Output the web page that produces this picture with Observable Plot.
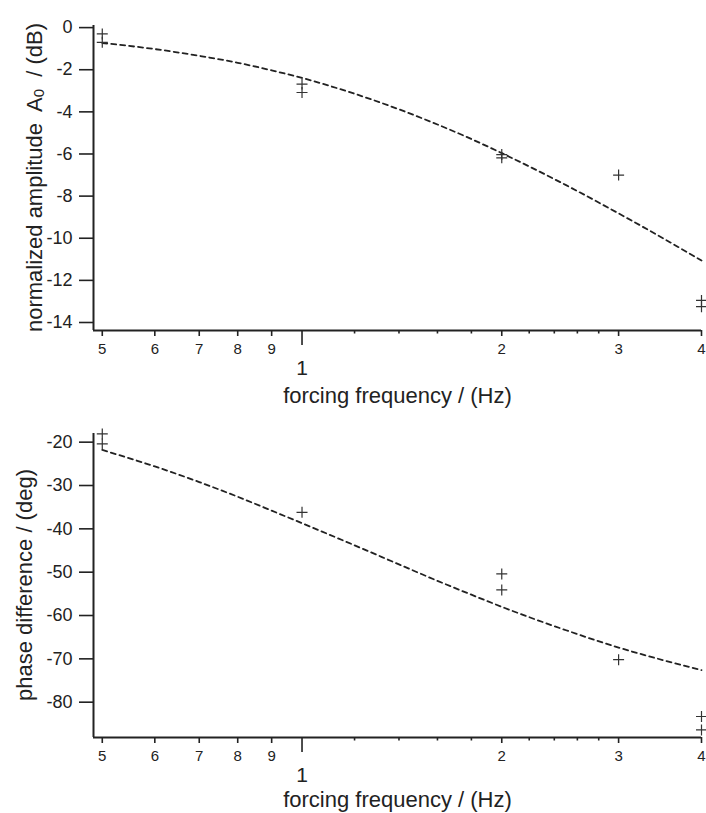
<!DOCTYPE html>
<html>
<head>
<meta charset="utf-8">
<script src="https://cdn.jsdelivr.net/npm/d3@7"></script>
<script src="https://cdn.jsdelivr.net/npm/@observablehq/plot@0.6"></script>
<style>
  html, body { margin: 0; padding: 0; background: #fff; }
  #chart svg { display: block; }
</style>
</head>
<body>
<div id="chart"></div>
<script>
// ---- data ----
// measured amplitude (dB)
const ampFreq = [0.5, 0.5, 1, 1, 2, 2, 3, 4, 4];
const ampVal  = [-0.3, -0.7, -2.68, -3.08, -6.03, -6.18, -7.0, -12.95, -13.25];
// measured phase difference (deg)
const phaseFreq = [0.5, 0.5, 1, 2, 2, 3, 4, 4];
const phaseVal  = [-18.1, -20.4, -36.2, -50.4, -54.1, -70.2, -83.3, -86.4];
// dashed model curves, read at sample frequencies
const fitFreq  = [0.5, 0.6, 0.7, 0.8, 0.9, 1.0, 1.2, 1.4, 1.6, 1.8, 2.0, 2.5, 3.0, 3.5, 4.0];
const ampFit   = [-0.73, -1.02, -1.34, -1.67, -2.03, -2.39, -3.14, -3.88, -4.60, -5.29, -5.96, -7.48, -8.82, -10.0, -11.06];
const phaseFit = [-21.8, -25.6, -29.2, -32.6, -35.8, -38.7, -43.8, -48.2, -52.0, -55.2, -58.0, -63.4, -67.4, -70.3, -72.6];
// axis ticks
const xSmallTicks = [0.5, 0.6, 0.7, 0.8, 0.9, 2, 3, 4];
const xSmallLabels = ["5", "6", "7", "8", "9", "2", "3", "4"];
const xBigTicks = [1];
const xBigLabels = ["1"];
const xMinorTicks = [1.2, 1.4, 1.6, 1.8, 2.2, 2.4, 2.6, 2.8];
const ampTicks = [0, -2, -4, -6, -8, -10, -12, -14];
const phaseTicks = [-20, -30, -40, -50, -60, -70, -80];
const xTitle = "forcing frequency / (Hz)";
const ampLabelParts = ["normalized amplitude  A", "0", "  / (dB)"];
const phaseLabel = "phase difference / (deg)";

const ink = "#222";
const font = "'Liberation Sans', Arial, Helvetica, sans-serif";
const xDomain = [0.485, 4];

const cross = {
  draw(ctx, size) {
    const r = Math.sqrt(size / Math.PI);
    ctx.moveTo(-r, 0); ctx.lineTo(r, 0);
    ctx.moveTo(0, -r); ctx.lineTo(0, r);
  }
};

const smallLabelData = xSmallTicks.map((f, i) => ({f, label: xSmallLabels[i]}));
const bigLabelData = xBigTicks.map((f, i) => ({f, label: xBigLabels[i]}));

function panel({height, marginTop, marginBottom, yDomain, yTicks, pts, fit, titleDy}) {
  return Plot.plot({
    width: 706,
    height,
    marginLeft: 93,
    marginRight: 5,
    marginTop,
    marginBottom,
    style: {fontFamily: font, color: ink, background: "white", overflow: "visible"},
    x: {type: "log", domain: xDomain},
    y: {domain: yDomain},
    marks: [
      Plot.axisY(yTicks, {anchor: "left", tickSize: 14, tickPadding: 7, fontSize: 18,
        strokeWidth: 1.6, tickFormat: d => String(d), label: null}),
      Plot.axisX(xSmallTicks, {anchor: "bottom", tickSize: 6, strokeWidth: 1.6,
        tickFormat: () => "", label: null}),
      Plot.axisX(xBigTicks, {anchor: "bottom", tickSize: 15, strokeWidth: 1.6,
        tickFormat: () => "", label: null}),
      Plot.axisX(xMinorTicks, {anchor: "bottom", tickSize: 3.5, strokeWidth: 1.6,
        tickFormat: () => "", label: null}),
      Plot.text(smallLabelData, {x: "f", text: "label", frameAnchor: "bottom", dy: 18.5,
        fontSize: 15, fill: ink, lineAnchor: "middle"}),
      Plot.text(bigLabelData, {x: "f", text: "label", frameAnchor: "bottom", dy: 38,
        fontSize: 21, fill: ink, lineAnchor: "middle"}),
      Plot.ruleX([xDomain[0]], {stroke: ink, strokeWidth: 2}),
      Plot.ruleY([yDomain[0]], {stroke: ink, strokeWidth: 2}),
      Plot.line(fit, {x: "f", y: "v", stroke: ink, strokeWidth: 1.8,
        strokeDasharray: "5,4", curve: "monotone-x"}),
      Plot.dot(pts, {x: "f", y: "v", symbol: cross, r: 5.5, stroke: "#333",
        fill: "none", strokeWidth: 1.2}),
      Plot.text([xTitle], {frameAnchor: "bottom", dy: titleDy, fontSize: 22, fill: ink,
        lineAnchor: "middle"})
    ]
  });
}

const ampPts = ampFreq.map((f, i) => ({f, v: ampVal[i]}));
const phasePts = phaseFreq.map((f, i) => ({f, v: phaseVal[i]}));
const ampCurve = fitFreq.map((f, i) => ({f, v: ampFit[i]}));
const phaseCurve = fitFreq.map((f, i) => ({f, v: phaseFit[i]}));

const ampChart = panel({height: 410, marginTop: 25, marginBottom: 80,
  yDomain: [-14.38, 0.1], yTicks: ampTicks, pts: ampPts, fit: ampCurve, titleDy: 65});
const phaseChart = panel({height: 403, marginTop: 23, marginBottom: 76,
  yDomain: [-88.15, -18], yTicks: phaseTicks, pts: phasePts, fit: phaseCurve, titleDy: 62});

const root = document.getElementById("chart");
root.append(ampChart, phaseChart);

// rotated y-axis titles
{
  const t = d3.select(ampChart).append("text")
    .attr("transform", "translate(42,177.5) rotate(-90)")
    .attr("text-anchor", "middle")
    .attr("fill", ink)
    .style("font-family", font)
    .style("font-size", "22px")
    .style("white-space", "pre");
  t.append("tspan").text(ampLabelParts[0]);
  t.append("tspan").attr("dy", 2).style("font-size", "15px").text(ampLabelParts[1]);
  t.append("tspan").attr("dy", -2).text(ampLabelParts[2]);

  d3.select(phaseChart).append("text")
    .attr("transform", "translate(32,175) rotate(-90)")
    .attr("text-anchor", "middle")
    .attr("fill", ink)
    .style("font-family", font)
    .style("font-size", "22px")
    .text(phaseLabel);
}
</script>
</body>
</html>
